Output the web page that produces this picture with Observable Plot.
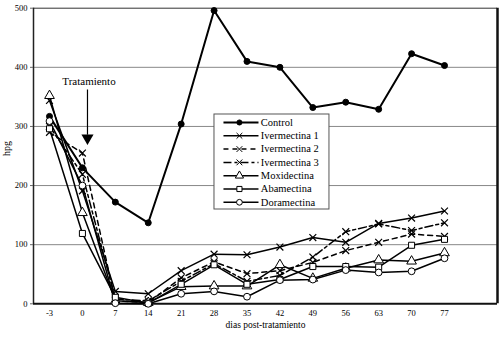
<!DOCTYPE html>
<html><head><meta charset="utf-8">
<script src="https://cdn.jsdelivr.net/npm/d3@7"></script>
<script src="https://cdn.jsdelivr.net/npm/@observablehq/plot@0.6"></script>
<style>body{margin:0;background:#fff} svg, svg text{font-family:"Liberation Serif","DejaVu Serif",serif !important}</style>
</head><body><div id="chart"></div>
<script>
const days = ["-3","0","7","14","21","28","35","42","49","56","63","70","77"];
const control      = [317,230,172,137,304,496,410,400,332,341,329,423,403];
const ivermectina1 = [344,191,21,17,56,84,83,96,112,104,136,145,157];
const ivermectina2 = [290,255,5,2,44,71,51,56,70,90,104,118,114];
const ivermectina3 = [300,219,8,5,38,68,38,48,79,122,135,124,137];
const moxidectina  = [352,154,5,2,29,30,30,66,43,60,74,72,86];
const abamectina   = [296,119,11,1,33,66,33,41,63,63,62,99,109];
const doramectina  = [309,200,1,0,17,21,12,40,41,57,53,55,77];
const yTicks = [0,100,200,300,400,500];
const seriesNames = ["Control","Ivermectina 1","Ivermectina 2","Ivermectina 3","Moxidectina","Abamectina","Doramectina"];
const seriesValues = [control,ivermectina1,ivermectina2,ivermectina3,moxidectina,abamectina,doramectina];

const styles = [
  {sw:2,   dash:null,      symbol:"circle",   fill:"black", r:3},
  {sw:1.5, dash:null,      symbol:"times",    fill:"none",  r:3.2},
  {sw:1.5, dash:"5,4",     symbol:"times",    fill:"none",  r:3.2},
  {sw:1.5, dash:"8,3,3,3", symbol:"times",    fill:"none",  r:3.2},
  {sw:1.5, dash:null,      symbol:"triangle", fill:"white", r:3.6},
  {sw:1.5, dash:null,      symbol:"square",   fill:"white", r:3.4},
  {sw:1.5, dash:null,      symbol:"circle",   fill:"white", r:3.4}
];

const xMin = -0.486, xMax = 13.61;
const marks = [];
marks.push(Plot.ruleY([100,200,300,400], {stroke:"#888", strokeWidth:1}));
marks.push(Plot.ruleY([500], {stroke:"#333", strokeWidth:1}));
marks.push(Plot.ruleX([xMin], {stroke:"#222", strokeWidth:1.5}));
marks.push(Plot.ruleX([xMax], {stroke:"#111", strokeWidth:2.5}));
marks.push(Plot.ruleY([0], {stroke:"#111", strokeWidth:2}));

seriesNames.forEach((name, k) => {
  const rows = seriesValues[k].map((v, i) => ({i, v, day: days[i]}));
  const s = styles[k];
  marks.push(Plot.line(rows, {x:"i", y:"v", stroke:"black", strokeWidth:s.sw, strokeDasharray:s.dash}));
});
seriesNames.forEach((name, k) => {
  const rows = seriesValues[k].map((v, i) => ({i, v}));
  const s = styles[k];
  marks.push(Plot.dot(rows, {x:"i", y:"v", symbol:s.symbol, r:s.r, stroke:"black", strokeWidth: s.symbol==="times"?1.2:1, fill:s.fill}));
});

// legend (in data coordinates)
const lgX0 = 5.012, lgX1 = 8.505, lgTop = 320.2, lgBottom = 159.5;
const rowY = k => 306.7 - k*22.5;
marks.push(Plot.rect([0], {x1:lgX0, x2:lgX1, y1:lgBottom, y2:lgTop, fill:"white", stroke:"#555", strokeWidth:1}));
seriesNames.forEach((name, k) => {
  const s = styles[k];
  marks.push(Plot.link([0], {x1:5.285, x2:6.349, y1:rowY(k), y2:rowY(k), stroke:"black", strokeWidth:s.sw, strokeDasharray:s.dash}));
  marks.push(Plot.dot([0], {x:5.77, y:rowY(k), symbol:s.symbol, r:s.r*0.85, stroke:"black", fill:s.fill, strokeWidth:1}));
  marks.push(Plot.text([name], {x:6.42, y:rowY(k), text:d=>d, textAnchor:"start", fontSize:10.5, fill:"black"}));
});

// annotation
marks.push(Plot.text(["Tratamiento"], {x:1.2, y:376, text:d=>d, fontSize:11, fill:"black"}));
marks.push(Plot.link([0], {x1:1.154, x2:1.154, y1:362.5, y2:286, stroke:"black", strokeWidth:1.2}));
marks.push(Plot.dot([0], {x:1.154, y:280.4, symbol:"triangle", r:4.5, fill:"black", rotate:180}));

// axes
marks.push(Plot.axisX(d3.range(days.length), {tickFormat:i=>days[i], tickSize:0, tickPadding:6, fontSize:8.5, fill:"black", label:null}));
marks.push(Plot.axisY(yTicks, {tickSize:3, tickPadding:3, stroke:"#666", fontSize:8.5, fill:"black", label:null}));
marks.push(Plot.text(["dias post-tratamiento"], {frameAnchor:"bottom", dy:24.5, fontSize:9.5, fill:"black", text:d=>d}));
marks.push(Plot.text(["hpg"], {frameAnchor:"left", dx:-27, rotate:-90, fontSize:10, fill:"black", text:d=>d}));

const chart = Plot.plot({
  width:503, height:338,
  marginLeft:33, marginRight:6, marginTop:7.7, marginBottom:34.7,
  x:{type:"linear", domain:[xMin, xMax]},
  y:{domain:[0,500]},
  style:"font-family:'Liberation Serif',serif;color:black;background:white;",
  marks
});
document.getElementById("chart").append(chart);
</script></body></html>
